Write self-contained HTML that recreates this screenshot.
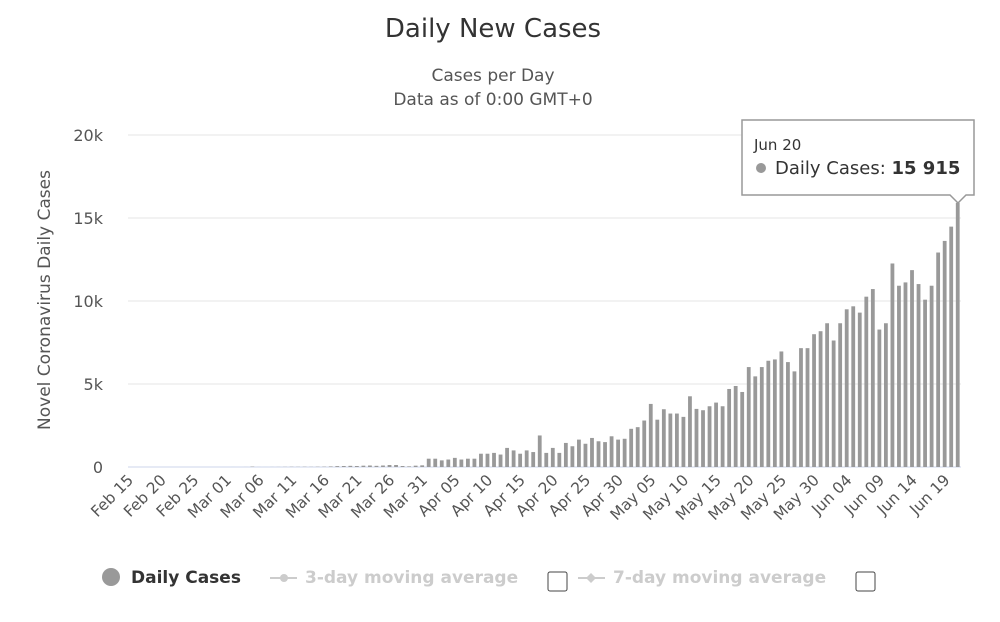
<!DOCTYPE html>
<html><head><meta charset="utf-8"><style>
body{margin:0;background:#fff;font-family:"Liberation Sans",sans-serif;}
svg text{font-family:"DejaVu Sans","Liberation Sans",sans-serif;}
</style></head><body>
<svg id="chart" width="1000" height="617">
<text x="493" y="37" text-anchor="middle" font-size="26" fill="#333">Daily New Cases</text>
<text x="493" y="81" text-anchor="middle" font-size="17" fill="#555">Cases per Day</text>
<text x="493" y="105" text-anchor="middle" font-size="17" fill="#555">Data as of 0:00 GMT+0</text>
<text transform="translate(50,300) rotate(-90)" text-anchor="middle" font-size="17" fill="#555">Novel Coronavirus Daily Cases</text>
<g id="grid"></g><g id="bars"></g><g id="xlabels"></g>
<g>
<g><circle cx="111" cy="577" r="9" fill="#999"/><text x="131" y="583" font-size="17" font-weight="bold" fill="#333">Daily Cases</text></g>
<g><line x1="270" y1="578" x2="297" y2="578" stroke="#ccc" stroke-width="2"/><circle cx="284" cy="578" r="4" fill="#ccc"/><text x="305" y="583" font-size="17" font-weight="bold" fill="#ccc">3-day moving average</text></g>
<rect x="548" y="572" width="19" height="19" fill="#fff" stroke="#444" rx="2"/>
<g><line x1="578" y1="578" x2="605" y2="578" stroke="#ccc" stroke-width="2"/><path d="M591 573 L596 578 L591 583 L586 578Z" fill="#ccc"/><text x="613" y="583" font-size="17" font-weight="bold" fill="#ccc">7-day moving average</text></g>
<rect x="856" y="572" width="19" height="19" fill="#fff" stroke="#444" rx="2"/>
</g>
<g>
<path d="M742 120 H974 V195 H966 L958 203 L950 195 H742 Z" fill="#fff" stroke="#999" stroke-width="1.5"/>
<text x="754" y="150" font-size="15" fill="#333">Jun 20</text>
<circle cx="761" cy="168" r="5" fill="#999"/>
<text x="775" y="174" font-size="18" fill="#333">Daily Cases: <tspan font-weight="bold">15 915</tspan></text>
</g>
</svg>
<script>
const yTicks=[0,5000,10000,15000,20000];
const yTickLabels=["0","5k","10k","15k","20k"];
const tickLabels=["Feb 15","Feb 20","Feb 25","Mar 01","Mar 06","Mar 11","Mar 16","Mar 21","Mar 26","Mar 31","Apr 05","Apr 10","Apr 15","Apr 20","Apr 25","Apr 30","May 05","May 10","May 15","May 20","May 25","May 30","Jun 04","Jun 09","Jun 14","Jun 19"];
const dailyCases=[0,0,0,0,0,0,0,0,0,0,0,0,0,0,0,0,1,0,2,23,2,1,3,5,9,14,11,15,10,17,20,35,54,60,70,60,80,90,70,90,120,120,60,40,80,100,
500,500,400,450,550,450,500,500,800,800,850,750,1150,1000,800,1000,900,1900,850,1150,850,1450,1250,1650,1400,1750,1550,1500,1850,1650,1700,2300,2400,2800,3800,2850,3480,3220,3220,3020,4260,3500,3420,3660,3880,3660,4700,4880,4520,6020,5460,6020,6400,6480,6960,6320,5760,7160,7160,8000,8180,8660,7620,8660,9500,9680,9300,10260,10720,8280,8660,12260,10920,11120,11860,11020,10080,10920,12920,13620,14480,15915];
const NS="http://www.w3.org/2000/svg";
const X0=125,X1=961,Y0=467,Y1=135,YMAX=20000;
const bw=(X1-X0)/dailyCases.length;
const y=v=>Y0-(v/YMAX)*(Y0-Y1);
const xc=i=>X0+bw*(i+0.5);
function mk(t,a,p){const e=document.createElementNS(NS,t);for(const k in a)e.setAttribute(k,a[k]);p.appendChild(e);return e;}
const grid=document.getElementById('grid');
yTicks.forEach((v,i)=>{
 const l=mk('line',{x1:X0+3,x2:X1,y1:y(v),y2:y(v),stroke:i==0?'#ccd6eb':'#e6e6e6','stroke-width':1},grid);
 
 
 const t=mk('text',{x:103,y:y(v)+6,'text-anchor':'end','font-size':16,fill:'#555'},grid);
 t.textContent=yTickLabels[i];
 
 
});
const bars=document.getElementById('bars');
dailyCases.forEach((v,i)=>{
 const r=mk('rect',{x:xc(i)-1.9,y:y(v),width:3.8,height:Y0-y(v),fill:'#999'},bars);
 
 
});
const xl=document.getElementById('xlabels');
tickLabels.forEach((s,k)=>{
 const cx=xc(k*5)+6;
 const t=mk('text',{transform:`translate(${cx},${Y0+14}) rotate(-45)`,'text-anchor':'end','font-size':15.5,fill:'#555'},xl);
 t.textContent=s;
 
 
});
</script>
</body></html>
